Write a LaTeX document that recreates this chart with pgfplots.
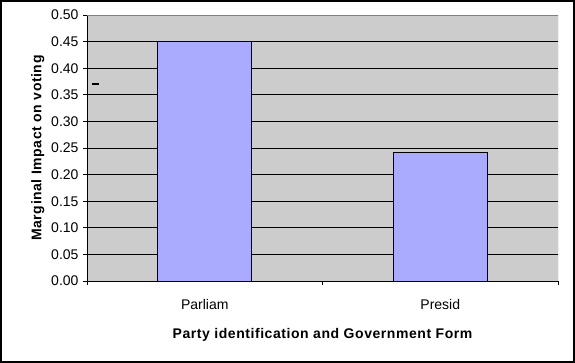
\documentclass[border=0pt]{standalone}
\usepackage{pgfplots}
\pgfplotsset{compat=1.18}
\usepackage{fontspec}
\setmainfont{Liberation Sans}
\definecolor{plotbg}{RGB}{204,204,204}
\definecolor{barfill}{RGB}{170,170,255}
\definecolor{frameline}{RGB}{128,128,128}
\begin{document}
\begin{tikzpicture}[x=1pt,y=1pt]
\useasboundingbox (0,0) rectangle (575,363);
\draw[line width=1.5pt] (1,1) rectangle (574,362);
\begin{axis}[
  at={(87pt,82pt)}, anchor=south west,
  scale only axis, width=471pt, height=266pt,
  xmin=0, xmax=2, ymin=0, ymax=0.5,
  axis x line*=bottom, axis y line*=left,
  axis line style={black, line width=0.9pt},
  axis background/.style={fill=plotbg},
  ytick={0,0.05,0.1,0.15,0.2,0.25,0.3,0.35,0.4,0.45,0.5},
  /pgf/number format/fixed, /pgf/number format/fixed zerofill,
  /pgf/number format/precision=2, /pgf/number format/assume math mode=true,
  yticklabel style={font=\fontsize{14}{16}\selectfont, xshift=-1pt},
  ymajorgrids, grid style={black, line width=0.8pt},
  tick align=outside, major tick length=4pt,
  tick style={black, line width=0.8pt},
  xtick={0,1,2}, xticklabels={},
  extra x ticks={0.5,1.5}, extra x tick labels={Parliam,Presid},
  extra x tick style={major tick length=0pt, xticklabel style={font=\fontsize{14}{16}\selectfont, yshift=-15pt}},
  xlabel={\bfseries\addfontfeatures{LetterSpace=4}Party identification and Government Form},
  ylabel={\bfseries\addfontfeatures{LetterSpace=4}Marginal Impact on voting},
  xlabel style={font=\fontsize{14}{16}\selectfont, yshift=-8pt},
  ylabel style={font=\fontsize{14}{16}\selectfont, yshift=0pt},
]
\addplot[ybar, bar width=94pt, fill=barfill, draw=black, line width=0.9pt]
  coordinates {(0.5,0.451) (1.5,0.241)};
\draw[frameline, line width=0.9pt] (rel axis cs:0,1) -- (rel axis cs:1,1) -- (rel axis cs:1,0);
\node[fill=black, inner sep=0pt, minimum width=7pt, minimum height=2.5pt] at (rel axis cs:0.018,0.74) {};
\end{axis}
\end{tikzpicture}
\end{document}
